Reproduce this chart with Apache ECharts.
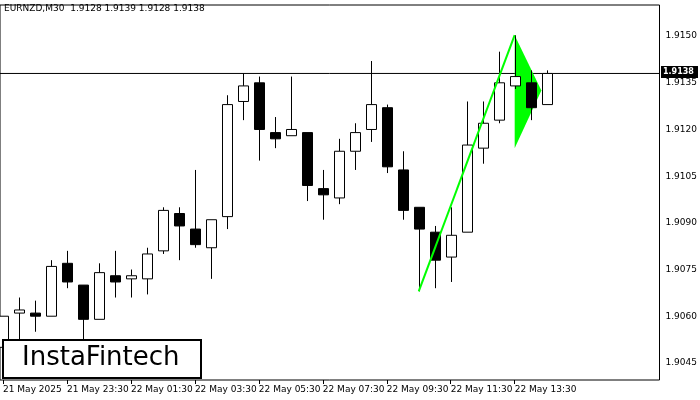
<!DOCTYPE html>
<html><head><meta charset="utf-8">
<script src="https://cdn.jsdelivr.net/npm/echarts@6/dist/echarts.min.js"></script>
<style>html,body{margin:0;padding:0;background:#fff}#c{width:700px;height:400px}</style>
</head><body><div id="c"></div>
<script>
// [open, close, low, high]
const candles = [
[1.9050,1.9060,1.9048,1.9060],[1.9061,1.9062,1.9051,1.9066],[1.9061,1.9060,1.9055,1.9065],
[1.9060,1.9076,1.9060,1.9078],[1.9077,1.9071,1.9069,1.9081],[1.9070,1.9059,1.9051,1.9070],
[1.9059,1.9074,1.9059,1.9077],[1.9073,1.9071,1.9066,1.9081],[1.9072,1.9073,1.9066,1.9075],
[1.9072,1.9080,1.9067,1.9082],[1.9081,1.9094,1.9080,1.9095],[1.9093,1.9089,1.9078,1.9095],
[1.9088,1.9083,1.9082,1.9107],[1.9082,1.9091,1.9072,1.9091],[1.9092,1.9128,1.9088,1.9131],
[1.9129,1.9134,1.9123,1.9138],[1.9135,1.9120,1.9110,1.9137],[1.9119,1.9117,1.9114,1.9124],
[1.9118,1.9120,1.9118,1.9137],[1.9119,1.9102,1.9097,1.9119],[1.9101,1.9099,1.9091,1.9107],
[1.9098,1.9113,1.9096,1.9117],[1.9113,1.9119,1.9107,1.9122],[1.9120,1.9128,1.9116,1.9142],
[1.9127,1.9108,1.9106,1.9128],[1.9107,1.9094,1.9091,1.9113],[1.9095,1.9088,1.9068,1.9095],
[1.9087,1.9078,1.9069,1.9089],[1.9079,1.9086,1.9071,1.9095],[1.9087,1.9115,1.9087,1.9129],
[1.9114,1.9122,1.9109,1.9129],[1.9123,1.9135,1.9122,1.9145],[1.9134,1.9137,1.9133,1.91503],
[1.9135,1.9127,1.9123,1.9139],[1.9128,1.9138,1.9128,1.9139]
];
const timeLabelIdx = [0,4,8,12,16,20,24,28,32];
const timeLabels = ['21 May 2025','21 May 23:30','22 May 01:30','22 May 03:30','22 May 05:30','22 May 07:30','22 May 09:30','22 May 11:30','22 May 13:30'];
const priceTicks = [1.9045,1.9060,1.9075,1.9090,1.9105,1.9120,1.9135,1.9150];
const poleLine = [[26,1.9068],[32,1.91503]];
const pennant = [[32,1.91503],[32,1.9114],[33.67,1.91325]];
const lastPrice = 1.9138;
const xMin = -0.19, xMax = 41.06;
const title = 'EURNZD,M30  1.9128 1.9139 1.9128 1.9138';

const chart = echarts.init(document.getElementById('c'));
chart.setOption({
  animation:false,
  grid:{left:0,right:40,top:5,bottom:20,show:true,borderColor:'#000',borderWidth:1},
  xAxis:{type:'value',min:xMin,max:xMax,splitLine:{show:false},
    axisLine:{show:false},
    axisTick:{show:true,customValues:timeLabelIdx,length:4,lineStyle:{color:'#000'}},
    axisLabel:{customValues:timeLabelIdx,align:'left',fontSize:9,color:'#000',fontFamily:'DejaVu Sans',margin:5,
      formatter:v=>timeLabels[timeLabelIdx.indexOf(Math.round(v))]||''}},
  yAxis:{type:'value',position:'right',min:1.90395,max:1.91600,splitLine:{show:false},
    axisLine:{show:false},
    axisTick:{show:false},
    axisLabel:{customValues:priceTicks,fontSize:9,color:'#000',fontFamily:'DejaVu Sans',margin:6,formatter:v=>v.toFixed(4)}},
  graphic:[
    {type:'text',left:4,top:4,style:{text:title,fontSize:9,fontFamily:'DejaVu Sans',fill:'#000'}},
    {type:'rect',shape:{x:3,y:340,width:198,height:38},style:{fill:'#fff',stroke:'#000',lineWidth:2},z:100},
    {type:'text',x:22,y:345,style:{text:'InstaFintech',fontSize:26,fontFamily:'DejaVu Sans',fill:'#000'},z:101},
    {type:'rect',shape:{x:661,y:66,width:37,height:12},style:{fill:'#000'},z:100},
    {type:'text',x:663,y:67.5,style:{text:lastPrice.toFixed(4),fontSize:8,fontWeight:'bold',fontFamily:'DejaVu Sans',fill:'#fff'},z:101}
  ],
  series:[
    {type:'line',data:[[xMin,lastPrice],[xMax,lastPrice]],symbol:'none',lineStyle:{color:'#000',width:1},z:1},
    {type:'custom',data:[0],z:2,renderItem:(p,api)=>({type:'polygon',shape:{points:pennant.map(q=>api.coord(q))},style:{fill:'#00ff00'}})},
    {type:'custom',clip:true,z:4,data:candles.map((c,i)=>[i,...c]),
      renderItem:(p,api)=>{
        const x=api.value(0),o=api.value(1),c=api.value(2),l=api.value(3),h=api.value(4);
        const po=api.coord([x,o]),pc=api.coord([x,c]),pl=api.coord([x,l]),ph=api.coord([x,h]);
        const cx=Math.round(po[0])+0.5;
        const top=Math.min(po[1],pc[1]),bot=Math.max(po[1],pc[1]);
        const up=c>=o;
        return {type:'group',children:[
          {type:'line',shape:{x1:cx,y1:ph[1],x2:cx,y2:top},style:{stroke:'#000',lineWidth:1}},
          {type:'line',shape:{x1:cx,y1:bot,x2:cx,y2:pl[1]},style:{stroke:'#000',lineWidth:1}},
          {type:'rect',shape:{x:cx-5,y:top,width:10,height:Math.max(bot-top,1)},style:{fill:up?'#fff':'#000',stroke:'#000',lineWidth:1}}
        ]};
      }
    },
    {type:'line',data:poleLine,symbol:'none',lineStyle:{color:'#00ff00',width:2},z:6}
  ]
});
</script></body></html>
